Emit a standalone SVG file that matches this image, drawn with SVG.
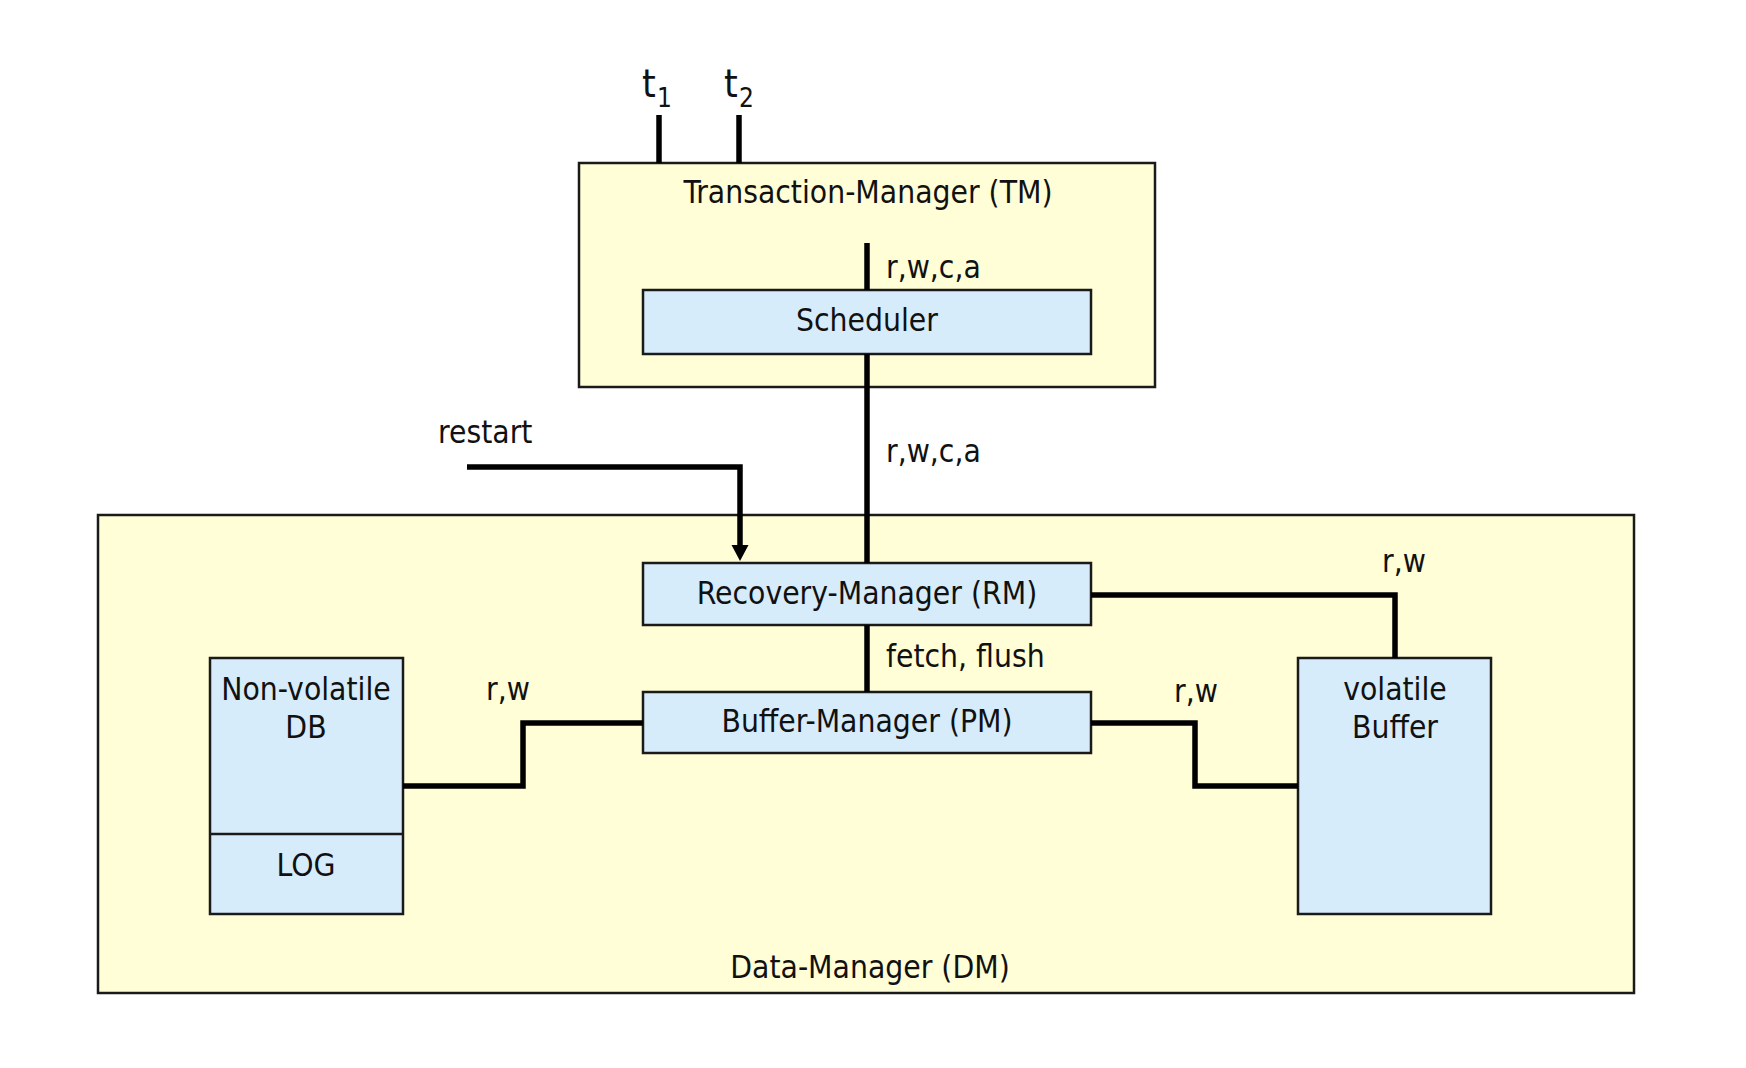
<svg xmlns="http://www.w3.org/2000/svg" width="1746" height="1068" viewBox="0 0 1746 1068">
<style>
text{font-family:"DejaVu Sans Condensed","DejaVu Sans","Liberation Sans",sans-serif;font-size:31.5px;fill:#111;}
.c{text-anchor:middle;}
.outer{fill:#FFFED6;stroke:#1a1a1a;stroke-width:2.5;}
.box{fill:#D6ECFB;stroke:#1a1a1a;stroke-width:2.5;}
.ln{fill:none;stroke:#000;stroke-width:5.5;stroke-linejoin:miter;}
</style>
<rect width="1746" height="1068" fill="#fff"/>
<g id="dm"><rect class="outer" x="98" y="515" width="1536" height="478"/><text class="c" x="870" y="978">Data-Manager (DM)</text></g>
<g id="tm"><rect class="outer" x="579" y="163" width="576" height="224"/><text class="c" x="868" y="203">Transaction-Manager (TM)</text></g>
<g id="scheduler"><rect class="box" x="643" y="290" width="448" height="64"/><text class="c" x="867" y="331">Scheduler</text></g>
<g id="rm"><rect class="box" x="643" y="563" width="448" height="62"/><text class="c" x="867" y="604">Recovery-Manager (RM)</text></g>
<g id="bm"><rect class="box" x="643" y="692" width="448" height="61"/><text class="c" x="867" y="732">Buffer-Manager (PM)</text></g>
<g id="nvdb"><rect class="box" x="210" y="658" width="193" height="256"/><line x1="210" y1="834" x2="403" y2="834" stroke="#1a1a1a" stroke-width="2.5"/><text class="c" x="306" y="700">Non-volatile</text><text class="c" x="306" y="738">DB</text><text class="c" x="306" y="876">LOG</text></g>
<g id="vbuf"><rect class="box" x="1298" y="658" width="193" height="256"/><text class="c" x="1395" y="700">volatile</text><text class="c" x="1395" y="738">Buffer</text></g>
<g id="connectors">
<line class="ln" x1="659" y1="115" x2="659" y2="163"/>
<line class="ln" x1="739" y1="115" x2="739" y2="163"/>
<line class="ln" x1="867" y1="243" x2="867" y2="290"/>
<line class="ln" x1="867" y1="354" x2="867" y2="563"/>
<line class="ln" x1="867" y1="625" x2="867" y2="692"/>
<path class="ln" d="M467,467 H740 V546"/>
<path d="M731.5,545 L748.5,545 L740,561 Z" fill="#000"/>
<path class="ln" d="M1091,595 H1395 V658"/>
<path class="ln" d="M1091,723 H1195 V786 H1298"/>
<path class="ln" d="M643,723 H523 V786 H403"/>
</g>
<g id="labels">
<text x="642" y="97" style="font-size:39px">t</text><text x="657" y="107" style="font-size:26px">1</text>
<text x="724" y="97" style="font-size:39px">t</text><text x="739" y="107" style="font-size:26px">2</text>
<text x="886" y="278">r,w,c,a</text>
<text x="886" y="462">r,w,c,a</text>
<text x="438" y="443">restart</text>
<text x="886" y="667">fetch, flush</text>
<text x="486" y="700">r,w</text>
<text x="1174" y="702">r,w</text>
<text x="1382" y="572">r,w</text>
</g>
</svg>
